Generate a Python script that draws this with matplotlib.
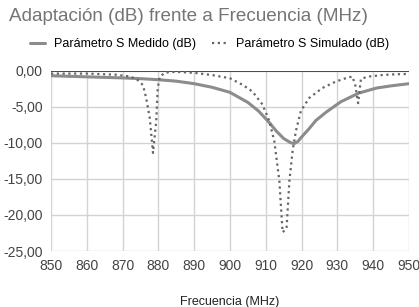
import matplotlib
matplotlib.use('Agg')
import matplotlib.pyplot as plt
from matplotlib.ticker import FuncFormatter

plt.rcParams['font.family'] = ['Liberation Sans', 'DejaVu Sans']

freq_med = [850, 860, 870, 875, 880, 885, 890, 895, 900, 905, 908, 911, 913,
            915, 917, 918, 919, 920, 922, 924, 927, 931, 936, 941, 945, 950]
s_med = [-0.7, -0.85, -1.0, -1.1, -1.25, -1.45, -1.8, -2.3, -3.0, -4.4, -5.6,
         -7.2, -8.4, -9.4, -10.0, -10.1, -9.8, -9.2, -8.1, -6.9, -5.7, -4.3,
         -3.1, -2.4, -2.1, -1.8]

# Simulated S parameter (dB)
freq_sim = [850, 860, 868, 872, 874, 875.7, 876.6, 877.6, 878.5, 879.4, 879.8,
            880.4, 882, 885, 890, 895, 900, 903.5, 906.3, 909.1, 911, 912.4,
            913.8, 914.7, 915.8, 916.6, 917.5, 918.4, 919.8, 922.1, 925.8,
            929.6, 932, 934.2, 935, 935.8, 936.6, 939, 942.6, 946, 950]
s_sim = [-0.4, -0.4, -0.55, -0.8, -1.2, -2.0, -3.8, -6.6, -11.4, -7.0, -2.5,
         -0.8, -0.25, -0.15, -0.3, -0.6, -1.05, -1.95, -2.9, -4.7, -7.0, -9.8,
         -15.3, -22.4, -21.9, -15.3, -11.1, -8.4, -5.6, -3.8, -2.4, -1.5, -1.1,
         -0.8, -2.0, -4.5, -1.1, -0.8, -0.6, -0.5, -0.45]

x_ticks = list(range(850, 951, 10))
y_ticks = [0, -5, -10, -15, -20, -25]

fig = plt.figure(figsize=(4.19, 3.07), dpi=100)
ax = fig.add_axes([0.1217, 0.1824, 0.8543, 0.5873])

ax.plot(freq_med, s_med, color='#8c8c8c', lw=2.2, solid_capstyle='round',
        label='Parámetro S Medido (dB)', zorder=3)
ax.plot(freq_sim, s_sim, color='#666666', lw=1.6, linestyle=(0, (1, 1.6)),
        dash_capstyle='butt', label='Parámetro S Simulado (dB)', zorder=4)

ax.set_xlim(850, 950)
ax.set_ylim(-25, 0)
ax.set_xticks(x_ticks)
ax.set_yticks(y_ticks)
ax.yaxis.set_major_formatter(FuncFormatter(lambda v, p: f'{v:.2f}'.replace('.', ',')))
ax.grid(True, color='#d3d3d3', lw=1)
ax.set_axisbelow(True)
for s in ax.spines.values():
    s.set_visible(False)
ax.axhline(0, color='#333333', lw=1.2, zorder=2)
ax.tick_params(length=0, labelsize=10, labelcolor='#444444')
ax.tick_params(axis='y', pad=6)
ax.tick_params(axis='x', pad=6)

ax.set_xlabel('Frecuencia (MHz)', fontsize=9, color='#222222', labelpad=16)

fig.text(0.022, 0.945, 'Adaptación (dB) frente a Frecuencia (MHz)',
         fontsize=13.6, color='#757575', va='center', ha='left')
fig.legend(loc='center', bbox_to_anchor=(0.5, 1 - 44 / 307), ncol=2,
           frameon=False, fontsize=9, handlelength=1.2, columnspacing=1.3,
           handletextpad=0.7)

fig.savefig('out.png', dpi=100)
